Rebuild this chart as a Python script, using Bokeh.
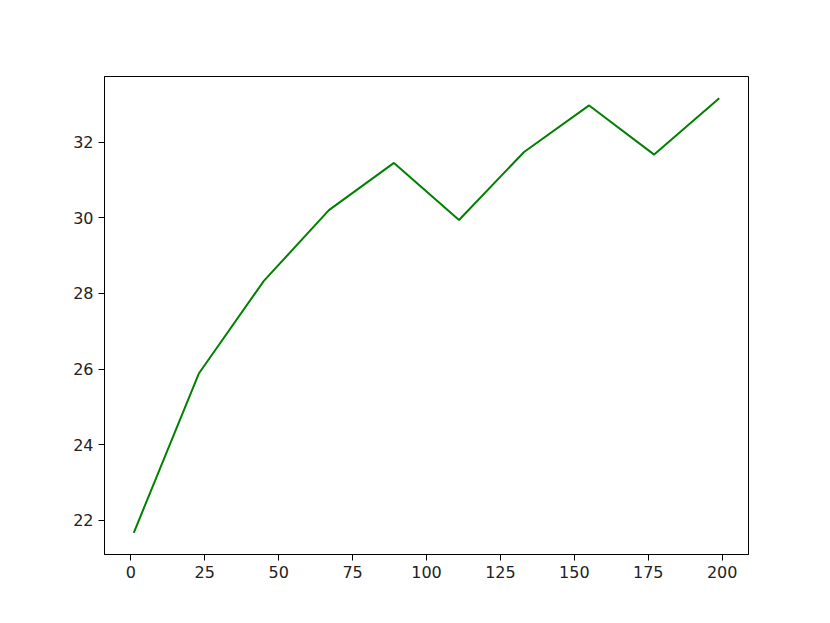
from bokeh.plotting import figure
from bokeh.models import Range1d, FixedTicker
from bokeh.embed import file_html
from bokeh.resources import INLINE

epochs = [1, 23, 45, 67, 89, 111, 133, 155, 177, 199]
values = [21.67, 25.88, 28.33, 30.20, 31.45, 29.94, 31.74, 32.97, 31.67, 33.16]
x_ticks = [0, 25, 50, 75, 100, 125, 150, 175, 200]
y_ticks = [22, 24, 26, 28, 30, 32]

W, H = 812, 605
L, T, PW, PH = 104, 76, 644, 478

p = figure(width=W, height=H, output_backend="svg", toolbar_location=None,
           x_range=Range1d(-8.9, 208.9), y_range=Range1d(21.095, 33.735),
           min_border_left=L, min_border_top=T,
           min_border_right=W - L - PW, min_border_bottom=H - T - PH)

p.line(epochs, values, line_color="#008000", line_width=2)

p.xgrid.visible = False
p.ygrid.visible = False
p.outline_line_color = "black"
p.outline_line_width = 1
p.background_fill_color = "white"
p.border_fill_color = "white"

for ax, ticks in ((p.xaxis[0], x_ticks), (p.yaxis[0], y_ticks)):
    ax.ticker = FixedTicker(ticks=ticks)
    ax.minor_tick_line_color = None
    ax.major_tick_out = 6
    ax.major_tick_in = 0
    ax.major_tick_line_color = "black"
    ax.axis_line_color = "black"
    ax.major_label_text_font = "DejaVu Sans"
    ax.major_label_text_font_size = "16px"
    ax.major_label_text_color = "#222222"
    ax.major_label_standoff = 5

out = file_html(p, INLINE)
open("out.html", "w").write(out)
